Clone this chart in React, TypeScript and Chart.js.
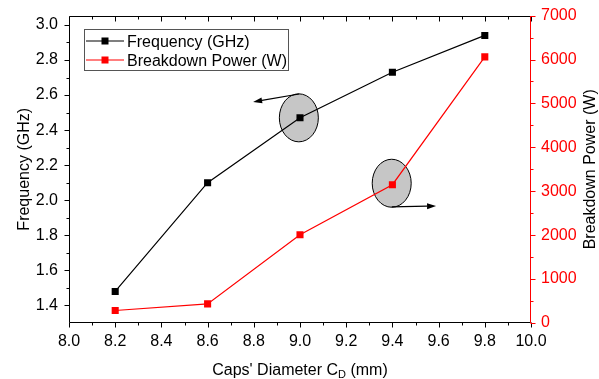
import React, { useEffect, useRef } from 'react';
import { Chart, registerables } from 'chart.js';

Chart.register(...registerables);

// ---- data ----
const diameters = [8.2, 8.6, 9.0, 9.4, 9.8];
const frequencyGHz = [1.48, 2.10, 2.47, 2.73, 2.94];
const breakdownPowerW = [285, 435, 2010, 3150, 6060];

const xTickValues = [8.0, 8.2, 8.4, 8.6, 8.8, 9.0, 9.2, 9.4, 9.6, 9.8, 10.0];
const freqTickValues = [1.4, 1.6, 1.8, 2.0, 2.2, 2.4, 2.6, 2.8, 3.0];
const powerTickValues = [0, 1000, 2000, 3000, 4000, 5000, 6000, 7000];

const seriesLabels = ['Frequency (GHz)', 'Breakdown Power (W)'];
const xTitleMain = "Caps' Diameter C";
const xTitleSub = 'D';
const xTitleTail = ' (mm)';
const yLeftTitle = 'Frequency (GHz)';
const yRightTitle = 'Breakdown Power (W)';

// annotation anchors in data units (x, left-axis y)
const ellipseCenters = [
  { x: 8.995, y: 2.47 },
  { x: 9.397, y: 2.097 },
];
const arrowSegments = [
  { x0: 8.996, y0: 2.606, x1: 8.797, y1: 2.561 },
  { x0: 9.397, y0: 1.962, x1: 9.589, y1: 1.967 },
];

const FONT = '"Liberation Sans", Arial, sans-serif';
const RED = '#ff0000';

const overlayPlugin = {
  id: 'overlay',
  beforeDatasetsDraw(chart: any) {
    const ctx = chart.ctx as CanvasRenderingContext2D;
    const xs = chart.scales.x;
    const ys = chart.scales.y;
    ctx.save();
    // ellipses
    for (const e of ellipseCenters) {
      const cx = xs.getPixelForValue(e.x);
      const cy = ys.getPixelForValue(e.y);
      ctx.beginPath();
      ctx.ellipse(cx, cy, 19.5, 24, 0, 0, Math.PI * 2);
      ctx.fillStyle = '#c6c6c6';
      ctx.fill();
      ctx.lineWidth = 1;
      ctx.strokeStyle = '#000';
      ctx.stroke();
    }
    // arrows
    for (const a of arrowSegments) {
      const x0 = xs.getPixelForValue(a.x0);
      const y0 = ys.getPixelForValue(a.y0);
      const x1 = xs.getPixelForValue(a.x1);
      const y1 = ys.getPixelForValue(a.y1);
      const ang = Math.atan2(y1 - y0, x1 - x0);
      const hl = 9;
      const hw = 3;
      const bx = x1 - hl * Math.cos(ang);
      const by = y1 - hl * Math.sin(ang);
      ctx.beginPath();
      ctx.moveTo(x0, y0);
      ctx.lineTo(bx, by);
      ctx.strokeStyle = '#000';
      ctx.lineWidth = 1.2;
      ctx.stroke();
      ctx.beginPath();
      ctx.moveTo(x1, y1);
      ctx.lineTo(bx + hw * Math.sin(ang), by - hw * Math.cos(ang));
      ctx.lineTo(bx - hw * Math.sin(ang), by + hw * Math.cos(ang));
      ctx.closePath();
      ctx.fillStyle = '#000';
      ctx.fill();
    }
    ctx.restore();
  },
  afterDraw(chart: any) {
    const ctx = chart.ctx as CanvasRenderingContext2D;
    const xs = chart.scales.x;
    const ys = chart.scales.y;
    const y1s = chart.scales.y1;
    const { left, right, top, bottom } = chart.chartArea;
    ctx.save();
    ctx.lineWidth = 1;
    const L = Math.round(left) + 0.5;
    const R = Math.round(right) - 0.5;
    const T = Math.round(top) + 0.5;
    const B = Math.round(bottom) - 0.5;

    // frame: top, bottom, left black; right red
    ctx.strokeStyle = '#000';
    ctx.beginPath();
    ctx.moveTo(L, T); ctx.lineTo(R, T);
    ctx.moveTo(L, B); ctx.lineTo(R, B);
    ctx.moveTo(L, T); ctx.lineTo(L, B);
    ctx.stroke();

    // x ticks (bottom outward, top inward)
    ctx.beginPath();
    for (let i = 0; i <= 20; i++) {
      const v = 8.0 + i * 0.1;
      const px = Math.round(xs.getPixelForValue(v)) + 0.5;
      const len = i % 2 === 0 ? 5 : 3;
      ctx.moveTo(px, B); ctx.lineTo(px, B + len);
      ctx.moveTo(px, T); ctx.lineTo(px, T + len);
    }
    // left ticks
    for (let i = 0; i <= 16; i++) {
      const v = 1.4 + i * 0.1;
      const py = Math.round(ys.getPixelForValue(v)) + 0.5;
      const len = i % 2 === 0 ? 5 : 3;
      ctx.moveTo(L, py); ctx.lineTo(L - len, py);
    }
    ctx.stroke();

    // right axis red
    ctx.strokeStyle = RED;
    ctx.beginPath();
    ctx.moveTo(R, T - 0.5); ctx.lineTo(R, B + 0.5);
    for (let i = 0; i <= 14; i++) {
      const v = i * 500;
      const py = Math.round(y1s.getPixelForValue(v)) + 0.5;
      const len = i % 2 === 0 ? 5 : 3;
      ctx.moveTo(R, py); ctx.lineTo(R + len, py);
    }
    ctx.stroke();

    // titles
    ctx.fillStyle = '#000';
    ctx.font = `16px ${FONT}`;
    ctx.textBaseline = 'alphabetic';
    // x title with subscript
    const w1 = ctx.measureText(xTitleMain).width;
    ctx.font = `11px ${FONT}`;
    const w2 = ctx.measureText(xTitleSub).width;
    ctx.font = `16px ${FONT}`;
    const w3 = ctx.measureText(xTitleTail).width;
    const total = w1 + w2 + w3;
    let sx = (left + right) / 2 - total / 2;
    const by = 375;
    ctx.textAlign = 'left';
    ctx.fillText(xTitleMain, sx, by);
    ctx.font = `11px ${FONT}`;
    ctx.fillText(xTitleSub, sx + w1, by + 3);
    ctx.font = `16px ${FONT}`;
    ctx.fillText(xTitleTail, sx + w1 + w2, by);

    // left title
    ctx.save();
    ctx.translate(28.5, (top + bottom) / 2);
    ctx.rotate(-Math.PI / 2);
    ctx.textAlign = 'center';
    ctx.fillText(yLeftTitle, 0, 0);
    ctx.restore();
    // right title
    ctx.save();
    ctx.translate(595, (top + bottom) / 2);
    ctx.rotate(-Math.PI / 2);
    ctx.textAlign = 'center';
    ctx.fillText(yRightTitle, 0, 0);
    ctx.restore();

    // legend
    ctx.strokeStyle = '#555';
    ctx.lineWidth = 1;
    ctx.strokeRect(84.5, 29.5, 204, 41);
    const rows = [
      { label: seriesLabels[0], color: '#000', y: 41 },
      { label: seriesLabels[1], color: RED, y: 60 },
    ];
    for (const r of rows) {
      ctx.strokeStyle = r.color;
      ctx.lineWidth = 1.2;
      ctx.beginPath();
      ctx.moveTo(86, r.y); ctx.lineTo(124, r.y);
      ctx.stroke();
      ctx.fillStyle = r.color;
      ctx.fillRect(105 - 3.5, r.y - 3.5, 7, 7);
      ctx.fillStyle = '#000';
      ctx.font = `16px ${FONT}`;
      ctx.textAlign = 'left';
      ctx.fillText(r.label, 127, r.y + 5.5);
    }
    ctx.restore();
  },
};

export default function App() {
  const ref = useRef<HTMLCanvasElement>(null);
  useEffect(() => {
    document.body.style.margin = '0';
    const canvas = ref.current!;
    const chart = new Chart(canvas, {
      type: 'line',
      data: {
        datasets: [
          {
            label: seriesLabels[0],
            data: diameters.map((d, i) => ({ x: d, y: frequencyGHz[i] })),
            borderColor: '#000',
            backgroundColor: '#000',
            borderWidth: 1.2,
            pointStyle: 'rect',
            pointRadius: 5,
            pointBorderWidth: 0,
            yAxisID: 'y',
          },
          {
            label: seriesLabels[1],
            data: diameters.map((d, i) => ({ x: d, y: breakdownPowerW[i] })),
            borderColor: RED,
            backgroundColor: RED,
            borderWidth: 1.2,
            pointStyle: 'rect',
            pointRadius: 5,
            pointBorderWidth: 0,
            yAxisID: 'y1',
          },
        ],
      },
      options: {
        responsive: false,
        animation: false,
        devicePixelRatio: 1,
        layout: { padding: { top: 13, left: 0, right: 0, bottom: 0 } },
        plugins: { legend: { display: false }, tooltip: { enabled: false } },
        scales: {
          x: {
            type: 'linear',
            min: 8.0,
            max: 10.0,
            afterBuildTicks: (s: any) => { s.ticks = xTickValues.map((v) => ({ value: v })); },
            afterFit: (s: any) => { s.height = 56; },
            grid: { display: false, drawTicks: true, tickLength: 5 },
            border: { display: false },
            ticks: {
              padding: 4,
              color: '#000',
              font: { family: FONT, size: 16 },
              maxRotation: 0,
              autoSkip: false,
              callback: (v: any) => Number(v).toFixed(1),
            },
          },
          y: {
            type: 'linear',
            position: 'left',
            min: 1.3,
            max: 3.053,
            afterBuildTicks: (s: any) => { s.ticks = freqTickValues.map((v) => ({ value: v })); },
            afterFit: (s: any) => { s.width = 69; },
            grid: { display: false, drawTicks: true, tickLength: 5 },
            border: { display: false },
            ticks: {
              padding: 6,
              color: '#000',
              font: { family: FONT, size: 16 },
              autoSkip: false,
              callback: (v: any) => Number(v).toFixed(1),
            },
          },
          y1: {
            type: 'linear',
            position: 'right',
            min: 0,
            max: 7000,
            afterBuildTicks: (s: any) => { s.ticks = powerTickValues.map((v) => ({ value: v })); },
            afterFit: (s: any) => { s.width = 68; },
            grid: { display: false, drawTicks: true, tickLength: 5 },
            border: { display: false },
            ticks: {
              padding: 5,
              color: RED,
              font: { family: FONT, size: 16 },
              autoSkip: false,
              callback: (v: any) => String(v),
            },
          },
        },
      },
      plugins: [overlayPlugin],
    });
    return () => chart.destroy();
  }, []);
  return <canvas ref={ref} width={599} height={379} style={{ display: 'block' }} />;
}
